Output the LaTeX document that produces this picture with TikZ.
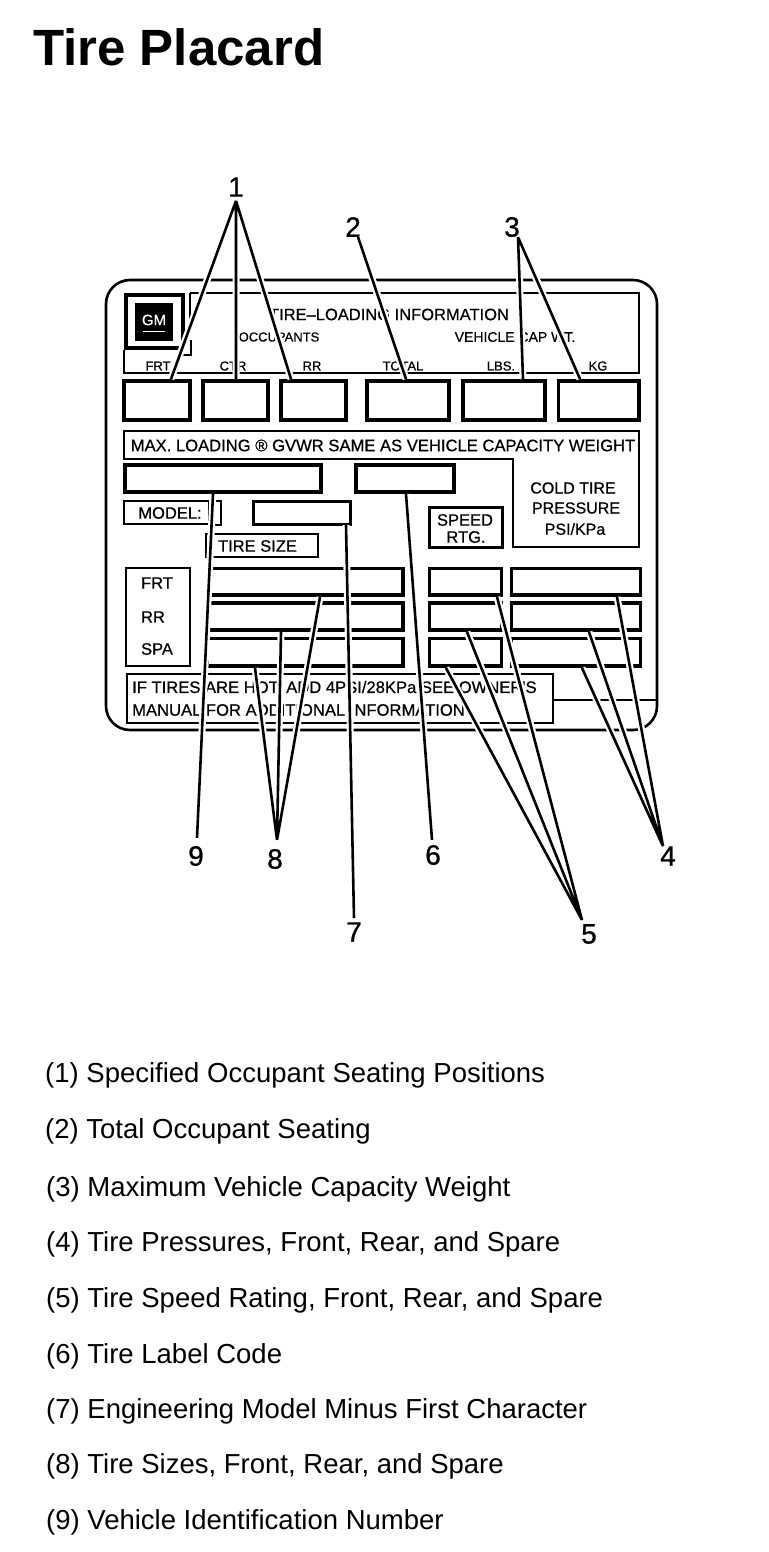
\documentclass[tikz,border=0pt]{standalone}
\usepackage{fontspec}
\setmainfont{Liberation Sans}
\newfontfamily\plfont[FakeBold=0.6]{Liberation Sans}
\newfontfamily\numfont[FakeBold=0.8]{Liberation Sans}
\tikzset{
  px/.style={x=1pt,y=-1pt},
  bx/.style={draw=black,fill=none,rectangle,inner sep=0pt,outer sep=0pt},
  thickbox/.style={bx,line width=3.6pt},
  medbox/.style={bx,line width=3pt},
  thinbox/.style={bx,line width=2.4pt},
  rule/.style={draw=black,line width=2.4pt},
  pl/.style={inner sep=0pt,font=\plfont\fontsize{#1}{#1}\selectfont},
  pl/.default=15.5,
  num/.style={inner sep=0pt,font=\numfont\fontsize{28}{28}\selectfont},
  item/.style={inner sep=0pt,anchor=west,font=\fontsize{27.5}{27.5}\selectfont},
  leader/.style={draw=black,line width=2.6pt,preaction={draw=white,line width=7pt}}
}
\newcommand{\bxnode}[6]{\node[#2,minimum width={(#5-#3)*1pt},minimum height={(#6-#4)*1pt}] (#1) at ({(#3+#5)/2},{(#4+#6)/2}) {};}
\begin{document}
\begin{tikzpicture}[px]
\useasboundingbox (0,0) rectangle (768,1552);
\fill[white] (0,0) rectangle (768,1552);
\node[inner sep=0pt,anchor=west,font=\bfseries\fontsize{51}{51}\selectfont] (title) at (33,47) {Tire Placard};

% placard outline
\draw[line width=2.6pt,rounded corners=24pt] (106,280) rectangle (657,730);

% header
\draw[rule] (190,293) -- (639,293) -- (639,373) -- (124,373) -- (124,350);
\draw[rule] (190,293) -- (190,320);
\draw[rule] (183,355) -- (191,355) -- (191,340);
\bxnode{gmframe}{thickbox}{126}{295}{183}{348}
\node[fill=black,inner sep=0pt,minimum width=38pt,minimum height=38pt] (gmbox) at (154,322) {};
\node[pl=15,text=white] (gm) at (154,320) {GM};
\draw[white,line width=1.2pt] (143,331.5) -- (165,331.5);

\node[pl=16.5] (tl) at (389,314.5) {TIRE–LOADING INFORMATION};
\node[pl=13] (occ) at (279,337) {OCCUPANTS};
\node[pl=14] (veh) at (515,337) {VEHICLE CAP WT.};
\node[pl=13] (h1) at (158,366) {FRT};
\node[pl=13] (h2) at (233,366) {CTR};
\node[pl=13] (h3) at (312,366) {RR};
\node[pl=13] (h4) at (403,366) {TOTAL};
\node[pl=13] (h5) at (501,366) {LBS.};
\node[pl=13] (h6) at (598,366) {KG};

% occupant / capacity boxes
\bxnode{b1}{thickbox}{124}{381}{190}{420}
\bxnode{b2}{thickbox}{203}{381}{268}{420}
\bxnode{b3}{thickbox}{281}{381}{346}{420}
\bxnode{b4}{thickbox}{367}{381}{449}{420}
\bxnode{b5}{thickbox}{463}{381}{545}{420}
\bxnode{b6}{thickbox}{558.5}{381}{639}{420}

% max loading frame
\draw[rule] (124,431) -- (639,431) -- (639,547) -- (513,547) -- (513,459) -- (124,459) -- cycle;
\node[pl=16.6] (maxl) at (383,445.5) {MAX. LOADING ® GVWR SAME AS VEHICLE CAPACITY WEIGHT};
\node[pl=16] (c1) at (573,488) {COLD TIRE};
\node[pl=16] (c2) at (576,508) {PRESSURE};
\node[pl=16] (c3) at (575,529) {PSI/KPa};

\bxnode{vin}{thickbox}{125}{465}{321}{492}
\bxnode{code}{thickbox}{356}{465}{454}{492}

\bxnode{modelb}{thinbox}{124}{501}{209}{524}
\node[pl=16.5] (modelt) at (170,513) {MODEL:};
\draw[rule] (215,501) -- (221,501) -- (221,525) -- (215,525);
\bxnode{modelv}{medbox}{253}{501}{350}{524}

\draw[line width=2.6pt] (206,534) rectangle (318,557);
\node[pl=16.5] (tsz) at (257.5,546) {TIRE SIZE};
\bxnode{speed}{medbox}{429}{507}{502}{547}
\node[pl=16.5] (sp1) at (465,520) {SPEED};
\node[pl=16.5] (sp2) at (466,537) {RTG.};

\bxnode{pos}{thinbox}{126}{568}{190}{666}
\node[pl=16.5] (p1) at (157,583) {FRT};
\node[pl=16.5] (p2) at (153,617) {RR};
\node[pl=16.5] (p3) at (157,649) {SPA};

% tire rows
\bxnode{s1}{thickbox}{207.5}{568.5}{403}{595}
\bxnode{s2}{thickbox}{207.5}{603}{403}{630}
\bxnode{s3}{thickbox}{207.5}{638.5}{403}{666}
\bxnode{r1}{thickbox}{429.5}{568.5}{501.5}{595}
\bxnode{r2}{thickbox}{429.5}{603}{501.5}{630}
\bxnode{r3}{thickbox}{429.5}{638.5}{501.5}{666}
\bxnode{t1}{thickbox}{511.5}{568.5}{640.5}{595}
\bxnode{t2}{thickbox}{511.5}{603}{640.5}{630}
\bxnode{t3}{thickbox}{511.5}{638.5}{640.5}{666}

% note box
\draw[rule] (554,700) -- (657,700);
\bxnode{note}{thinbox}{127}{674}{553}{723}
\node[pl=16.6,anchor=west] (n1t) at (132,688) {IF TIRES ARE HOT, ADD 4PSI/28KPa SEE OWNER'S};
\node[pl=16.6,anchor=west] (n2t) at (132,710) {MANUAL FOR ADDITIONAL INFORMATION};

% callout numbers
\node[num] (n1) at (236,187) {1};
\node[num] (n2) at (353,227) {2};
\node[num] (n3) at (512,227) {3};
\node[num] (n4) at (668,856) {4};
\node[num] (n5) at (589,934) {5};
\node[num] (n6) at (433,855) {6};
\node[num] (n7) at (354,932) {7};
\node[num] (n8) at (275,859) {8};
\node[num] (n9) at (196,856) {9};

% leader ends
\coordinate (e1a) at (171,379);
\coordinate (e1b) at (236,379);
\coordinate (e1c) at (291,379);
\coordinate (e2) at (406,379);
\coordinate (e3a) at (523,379);
\coordinate (e3b) at (580,379);
\coordinate (e4a) at (617,597);
\coordinate (e4b) at (589,632);
\coordinate (e4c) at (582,668);
\coordinate (e5a) at (497,597);
\coordinate (e5b) at (467,632);
\coordinate (e5c) at (446,668);
\coordinate (e6) at (406,494);
\coordinate (e7) at (346,525);
\coordinate (e8a) at (320,597);
\coordinate (e8b) at (281,632);
\coordinate (e8c) at (255,668);
\coordinate (e9) at (213,494);

\draw[leader] ([yshift=-4pt]n1.south) -- (e1a) ([yshift=-4pt]n1.south) -- (e1b) ([yshift=-4pt]n1.south) -- (e1c);
\draw[leader] ([xshift=5pt]n2.south) -- (e2);
\draw[leader] ([xshift=6pt]n3.south) -- (e3a) ([xshift=6pt]n3.south) -- (e3b);
\draw[leader] ([xshift=-5pt]n4.north) -- (e4a) ([xshift=-5pt]n4.north) -- (e4b) ([xshift=-5pt]n4.north) -- (e4c);
\draw[leader] ([xshift=-7pt,yshift=4pt]n5.north) -- (e5a) ([xshift=-7pt,yshift=4pt]n5.north) -- (e5b) ([xshift=-7pt,yshift=4pt]n5.north) -- (e5c);
\draw[leader] ([xshift=-1pt,yshift=5pt]n6.north) -- (e6);
\draw[leader] ([yshift=4pt]n7.north) -- (e7);
\draw[leader] ([xshift=2pt,yshift=9pt]n8.north) -- (e8a) ([xshift=2pt,yshift=9pt]n8.north) -- (e8b) ([xshift=2pt,yshift=9pt]n8.north) -- (e8c);
\draw[leader] ([xshift=1pt,yshift=8pt]n9.north) -- (e9);

% legend
\node[item] (l1) at (45,1075) {(1) Specified Occupant Seating Positions};
\node[item] (l2) at (45,1131) {(2) Total Occupant Seating};
\node[item] (l3) at (46,1189) {(3) Maximum Vehicle Capacity Weight};
\node[item] (l4) at (46,1244) {(4) Tire Pressures, Front, Rear, and Spare};
\node[item] (l5) at (46,1300) {(5) Tire Speed Rating, Front, Rear, and Spare};
\node[item] (l6) at (46,1356) {(6) Tire Label Code};
\node[item] (l7) at (46,1411) {(7) Engineering Model Minus First Character};
\node[item] (l8) at (46,1466) {(8) Tire Sizes, Front, Rear, and Spare};
\node[item] (l9) at (46,1522) {(9) Vehicle Identification Number};
\end{tikzpicture}
\end{document}
